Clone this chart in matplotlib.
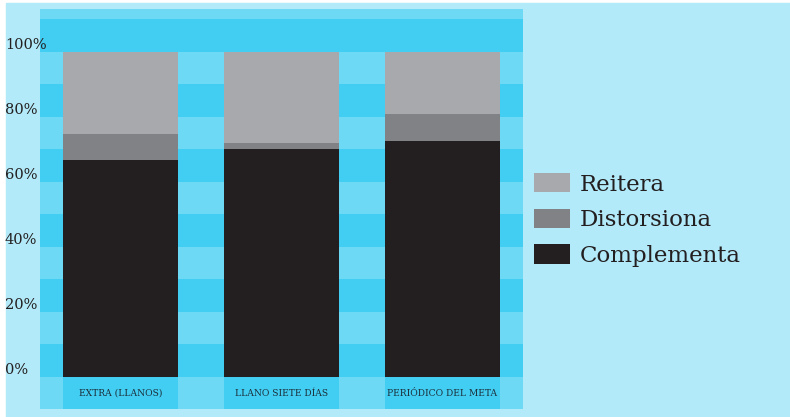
import matplotlib.pyplot as plt
from matplotlib.patches import Rectangle
import numpy as np

# Datos
medios = ['EXTRA (LLANOS)', 'LLANO SIETE DÍAS', 'PERIÓDICO DEL META']
complementa = [66.8, 70.2, 72.6]
distorsiona = [8.0, 1.8, 8.4]
reitera = [25.2, 28.0, 19.0]
ticks = [0, 20, 40, 60, 80, 100]

c_fondo = '#b2eaf9'
c_oscuro = '#42cdf3'
c_claro = '#6dd9f5'
c_reitera = '#a7a9ac'
c_distorsiona = '#808285'
c_complementa = '#231f20'

fig = plt.figure(figsize=(7.9, 4.17), dpi=100, facecolor='white')
fig.patches.append(Rectangle((6 / 790, 0), 1, 1 - 3 / 417, transform=fig.transFigure,
                             color=c_fondo, zorder=-10))

ax = fig.add_axes([40 / 790, 8 / 417, 483 / 790, 400 / 417])
ax.set_xlim(-0.5, 2.5)
ax.set_ylim(-9.85, 113.2)
ax.axis('off')

# franjas de fondo
for k, y0 in enumerate(range(-10, 120, 10)):
    ax.axhspan(y0, y0 + 10, color=c_claro if k % 2 == 0 else c_oscuro, lw=0, zorder=0)

x = np.arange(len(medios))
w = 0.72
ax.bar(x, 10, w, bottom=-10, color=c_oscuro, zorder=1)
b1 = ax.bar(x, complementa, w, color=c_complementa, label='Complementa', zorder=2)
b2 = ax.bar(x, distorsiona, w, bottom=complementa, color=c_distorsiona,
            label='Distorsiona', zorder=2)
b3 = ax.bar(x, reitera, w, bottom=np.add(complementa, distorsiona), color=c_reitera,
            label='Reitera', zorder=2)

for xi, m in zip(x, medios):
    ax.text(xi, -5, m, ha='center', va='center', fontsize=6.6,
            family='DejaVu Serif', color='#1c2f3a', zorder=3)

for t in ticks:
    ax.text(-35 / 483, t + 2.0, f'{t}%', transform=ax.get_yaxis_transform(),
            ha='left', va='center', fontsize=10.5, family='DejaVu Serif',
            color='#231f20', clip_on=False)

fig.legend(handles=[b3, b2, b1], labels=['Reitera', 'Distorsiona', 'Complementa'],
           loc='upper left', bbox_to_anchor=(534 / 790, 1 - 173 / 417),
           frameon=False, borderpad=0, borderaxespad=0,
           prop={'family': 'DejaVu Serif', 'size': 16.5},
           handlelength=1.57, handleheight=0.92, handletextpad=0.44,
           labelspacing=0.57, labelcolor='#231f20')

fig.savefig('out.png', dpi=100, facecolor=fig.get_facecolor())
